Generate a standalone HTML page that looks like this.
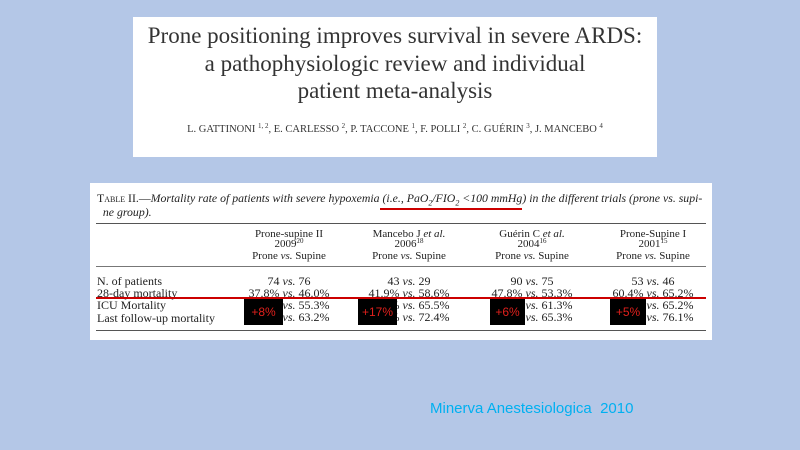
<!DOCTYPE html>
<html><head><meta charset="utf-8"><style>
body{margin:0;width:800px;height:450px;background:#b4c7e7;position:relative;overflow:hidden;font-family:"Liberation Serif",serif;color:#222}
.a{position:absolute;white-space:nowrap}
.c{transform:translateX(-50%);text-align:center}
.t{font-size:12px;line-height:12px}
.h{font-size:11px;line-height:11px}
sup.s{font-size:7px;vertical-align:baseline;position:relative;top:-4px}
.bx{position:absolute;background:#000;color:#e0201c;font-family:"Liberation Sans",sans-serif;font-size:12px;display:flex;align-items:center;justify-content:center}
</style></head><body>
<div class="a" style="left:133px;top:17px;width:524px;height:140px;background:#fff"></div>
<div class="a c" style="left:395px;top:22px;font-size:23px;line-height:27.5px;color:#333">Prone positioning improves survival in severe ARDS:<br>a pathophysiologic review and individual<br>patient meta-analysis</div>
<div class="a c" style="left:395px;top:124px;font-size:10.5px;color:#333">L. GATTINONI <sup class="s">1, 2</sup>, E. CARLESSO <sup class="s">2</sup>, P. TACCONE <sup class="s">1</sup>, F. POLLI <sup class="s">2</sup>, C. GUÉRIN <sup class="s">3</sup>, J. MANCEBO <sup class="s">4</sup></div>

<div class="a" style="left:90px;top:183px;width:622px;height:157px;background:#fff"></div>
<div class="a" style="left:97px;top:191px;font-size:11.8px;line-height:14px"><span style="font-variant:small-caps">Table II.</span>—<i>Mortality rate of patients with severe hypoxemia (i.e., PaO<sub style="font-size:8px;line-height:0">2</sub>/FIO<sub style="font-size:8px;line-height:0">2</sub> &lt;100 mmHg) in the different trials (prone vs. supi-<br>&nbsp;&nbsp;ne group).</i></div>
<div class="a" style="left:380px;top:208px;width:142px;height:2px;background:#c00"></div>
<div class="a" style="left:96px;top:223px;width:610px;height:1px;background:#555"></div>

<div class="a c h" style="left:289px;top:229px">Prone-supine II</div>
<div class="a c h" style="left:289px;top:239px">2009<sup class="s">20</sup></div>
<div class="a c h" style="left:289px;top:251px">Prone <i>vs.</i> Supine</div>
<div class="a c h" style="left:409px;top:229px">Mancebo J <i>et al.</i></div>
<div class="a c h" style="left:409px;top:239px">2006<sup class="s">18</sup></div>
<div class="a c h" style="left:409px;top:251px">Prone <i>vs.</i> Supine</div>
<div class="a c h" style="left:532px;top:229px">Guérin C <i>et al.</i></div>
<div class="a c h" style="left:532px;top:239px">2004<sup class="s">16</sup></div>
<div class="a c h" style="left:532px;top:251px">Prone <i>vs.</i> Supine</div>
<div class="a c h" style="left:653px;top:229px">Prone-Supine I</div>
<div class="a c h" style="left:653px;top:239px">2001<sup class="s">15</sup></div>
<div class="a c h" style="left:653px;top:251px">Prone <i>vs.</i> Supine</div>

<div class="a" style="left:96px;top:266px;width:610px;height:1px;background:#777"></div>
<div class="a t" style="left:97px;top:275px">N. of patients<br>28-day mortality</div>
<div class="a c t" style="left:289px;top:275px">74 <i>vs.</i> 76<br>37.8% <i>vs.</i> 46.0%</div>
<div class="a c t" style="left:409px;top:275px">43 <i>vs.</i> 29<br>41.9% <i>vs.</i> 58.6%</div>
<div class="a c t" style="left:532px;top:275px">90 <i>vs.</i> 75<br>47.8% <i>vs.</i> 53.3%</div>
<div class="a c t" style="left:653px;top:275px">53 <i>vs.</i> 46<br>60.4% <i>vs.</i> 65.2%</div>
<div class="a" style="left:96px;top:297px;width:610px;height:2px;background:#c00"></div>
<div class="a t" style="left:97px;top:299px">ICU Mortality<br><span style="position:relative;top:1px">Last follow-up mortality</span></div>
<div class="a c t" style="left:289px;top:299px">37.8% <i>vs.</i> 55.3%<br>37.8% <i>vs.</i> 63.2%</div>
<div class="a c t" style="left:409px;top:299px">41.9% <i>vs.</i> 65.5%<br>41.9% <i>vs.</i> 72.4%</div>
<div class="a c t" style="left:532px;top:299px">47.8% <i>vs.</i> 61.3%<br>47.8% <i>vs.</i> 65.3%</div>
<div class="a c t" style="left:653px;top:299px">60.4% <i>vs.</i> 65.2%<br>60.4% <i>vs.</i> 76.1%</div>
<div class="bx" style="left:244px;top:299px;width:39px;height:26px">+8%</div>
<div class="bx" style="left:358px;top:299px;width:39px;height:26px">+17%</div>
<div class="bx" style="left:490px;top:299px;width:35px;height:26px">+6%</div>
<div class="bx" style="left:610px;top:299px;width:36px;height:26px">+5%</div>
<div class="a" style="left:96px;top:330px;width:610px;height:1px;background:#555"></div>
<div class="a" style="left:430px;top:400px;font-family:'Liberation Sans',sans-serif;font-size:15px;color:#00b0f0">Minerva Anestesiologica&nbsp; 2010</div>
</body></html>
